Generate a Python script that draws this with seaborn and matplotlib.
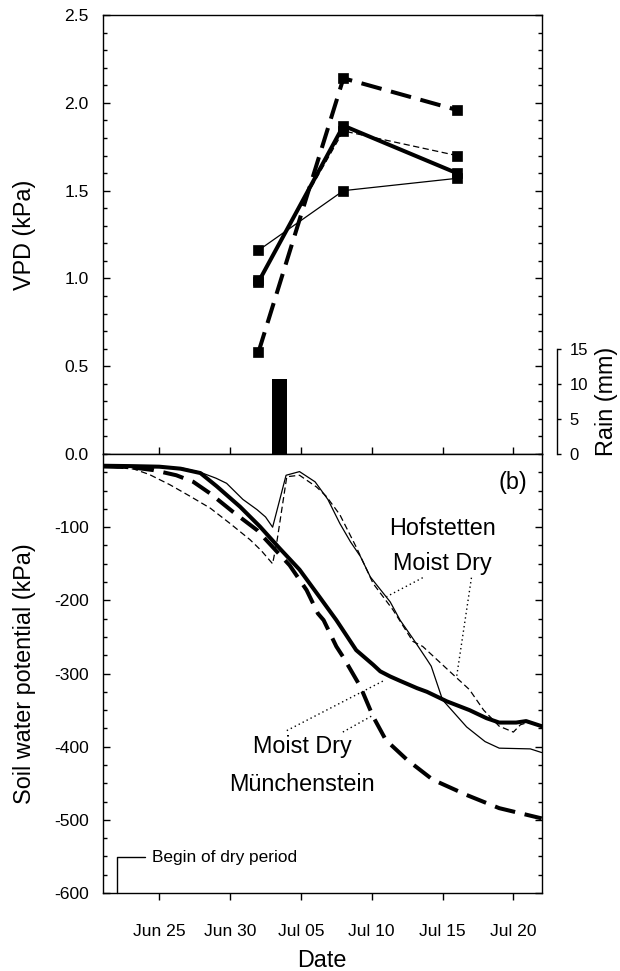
import numpy as np
import pandas as pd
import matplotlib

matplotlib.use("Agg")
import matplotlib.pyplot as plt
import matplotlib.dates as mdates
from matplotlib.ticker import MultipleLocator, FixedLocator
import seaborn as sns

# ==============================================================================
# DATA
# ==============================================================================
START = pd.Timestamp("2003-06-21")

# (a) VPD on the three sampling days
vpd_dates = ["2003-07-02", "2003-07-08", "2003-07-16"]
vpd_hof_moist = [1.16, 1.50, 1.57]
vpd_hof_dry = [0.99, 1.84, 1.70]
vpd_mun_moist = [0.98, 1.87, 1.60]
vpd_mun_dry = [0.58, 2.14, 1.96]

# rain event (mm)
rain_date = "2003-07-03 12:00"
rain_mm = 10.7

# (b) soil water potential (kPa), x = days after Jun 21
hof_moist_day = [0, 2, 4, 5.7, 6.9, 8.0, 8.75, 9.9, 10.9, 11.5, 12.0, 12.95,
                 13.9, 15.0, 15.9, 16.75, 17.5, 18.2, 18.9, 20.3, 21.0, 21.9,
                 22.9, 23.2, 24.0, 25.7, 27.0, 28.0, 30.2, 31.0]
hof_moist_swp = [-16, -17, -17.5, -19.5, -25, -33, -40, -62, -76, -86, -100, -29,
                 -24, -38, -62, -95, -120, -140, -168, -202, -227, -252,
                 -281, -290, -336, -373, -393, -402, -403, -408]

hof_dry_day = [0, 2.2, 3.3, 4.75, 6.2, 7.6, 9.0, 10.4, 11.2, 12.0, 12.3, 13.0,
               13.9, 15.1, 15.8, 16.75, 17.9, 19.1, 20.5, 21.9, 22.6, 25.0,
               25.9, 26.9, 28.0, 29.0, 29.5, 30.0, 31.0]
hof_dry_swp = [-17, -20.5, -28, -42, -58, -74, -95, -117, -132, -150, -120, -31,
               -29, -45, -58, -83, -127, -177, -213, -256, -263, -306,
               -322, -350, -372, -380, -370, -367, -372]

mun_moist_day = [0, 2, 4.0, 5.5, 6.9, 8.05, 9.7, 11.1, 12.5, 13.9, 15.3, 16.5,
                 17.9, 19.1, 19.6, 20.3, 21.0, 22.2, 22.9, 24.3, 25.9, 27.1,
                 28.0, 29.2, 29.9, 31.0]
mun_moist_swp = [-16, -16.5, -17.3, -20, -26, -44, -72, -99, -129, -158, -195, -227,
                 -268, -288, -297, -304, -310, -320, -325, -338, -350, -361,
                 -367, -367, -365, -372]

mun_dry_day = [0, 2, 3.6, 5.2, 6.4, 7.6, 9.2, 10.9, 12.0, 13.2, 14.4, 15.2,
               15.6, 16.5, 17.0, 18.2, 19.1, 20.0, 21.5, 23.3, 25.7, 28.0, 31.0]
mun_dry_swp = [-17, -18, -22, -29, -38, -54, -79, -104, -127, -152, -186, -218,
               -227, -263, -278, -318, -359, -391, -418, -445, -466, -484, -498]

# line style per series: (linewidth, linestyle)
STYLES = {
    "hof_moist": (0.9, "-"),
    "hof_dry": (0.9, (0, (4.5, 2.5))),
    "mun_moist": (2.9, "-"),
    "mun_dry": (2.9, (0, (15, 7))),
}


def to_dates(days):
    return START + pd.to_timedelta(np.asarray(days, dtype=float), unit="D")


def day_num(day):
    """Matplotlib date number for an offset in days after START."""
    return mdates.date2num(START.to_pydatetime()) + day


def main():
    sns.set_theme(style="ticks")
    plt.rcParams.update(
        {
            "font.family": ["Liberation Sans", "DejaVu Sans"],
            "axes.edgecolor": "black",
            "axes.labelcolor": "black",
            "text.color": "black",
            "xtick.color": "black",
            "ytick.color": "black",
            "axes.linewidth": 1.0,
            "axes.unicode_minus": False,
            "lines.scale_dashes": False,
            "lines.dash_capstyle": "butt",
        }
    )

    fig = plt.figure(figsize=(6.2, 9.71), dpi=100)
    ax_top = fig.add_axes([0.1656, 0.5324, 0.7081, 0.4521])
    ax_bot = fig.add_axes([0.1656, 0.0803, 0.7081, 0.4521], sharex=ax_top)

    # --- top panel: VPD ---
    vpd_x = pd.to_datetime(vpd_dates)
    vpd_series = {
        "hof_moist": vpd_hof_moist,
        "hof_dry": vpd_hof_dry,
        "mun_moist": vpd_mun_moist,
        "mun_dry": vpd_mun_dry,
    }
    for key, vals in vpd_series.items():
        lw, ls = STYLES[key]
        sns.lineplot(
            x=vpd_x, y=vals, ax=ax_top, color="black", lw=lw, linestyle=ls,
            marker="s", markersize=7.5, markeredgecolor="black",
            markeredgewidth=0.5, zorder=3,
        )

    ax_rain = ax_top.twinx()
    ax_rain.bar(pd.Timestamp(rain_date), rain_mm, width=1.1, color="black",
                edgecolor="black", linewidth=0)
    ax_rain.set_ylim(0, 62.6)
    ax_rain.yaxis.set_major_locator(FixedLocator([0, 5, 10, 15]))
    ax_rain.spines["right"].set_position(("outward", 10.8))
    ax_rain.spines["right"].set_bounds(0, 15)
    for side in ["left", "top", "bottom"]:
        ax_rain.spines[side].set_visible(False)
    ax_rain.tick_params(axis="y", direction="out", length=3.1, width=1.0,
                        labelsize=12, pad=6)
    ax_rain.set_ylabel("Rain (mm)", fontsize=16.8)
    ax_rain.yaxis.set_label_coords(1.121, 0.12)

    ax_top.set_ylim(0, 2.5)
    ax_top.yaxis.set_major_locator(MultipleLocator(0.5))
    ax_top.yaxis.set_minor_locator(MultipleLocator(0.1))
    ax_top.yaxis.set_major_formatter(plt.FormatStrFormatter("%.1f"))
    ax_top.tick_params(axis="y", which="both", direction="in", left=True,
                       right=True, labelsize=12.6, pad=10, width=1.0)
    ax_top.tick_params(axis="y", which="major", length=5.3)
    ax_top.tick_params(axis="y", which="minor", length=2.9)
    ax_top.tick_params(axis="x", which="major", direction="in", bottom=True,
                       top=False, labelbottom=False, length=5.3, width=1.0)
    ax_top.set_ylabel("VPD (kPa)", fontsize=16.8)
    ax_top.yaxis.set_label_coords(-0.152, 0.5)
    ax_top.set_xlabel("")

    # --- bottom panel: soil water potential ---
    swp_series = {
        "hof_moist": (hof_moist_day, hof_moist_swp),
        "hof_dry": (hof_dry_day, hof_dry_swp),
        "mun_moist": (mun_moist_day, mun_moist_swp),
        "mun_dry": (mun_dry_day, mun_dry_swp),
    }
    for key, (days, vals) in swp_series.items():
        lw, ls = STYLES[key]
        sns.lineplot(x=to_dates(days), y=vals, ax=ax_bot, color="black",
                     lw=lw, linestyle=ls)

    ax_bot.set_ylim(-600, 0)
    ax_bot.yaxis.set_major_locator(FixedLocator([-600, -500, -400, -300, -200, -100]))
    ax_bot.yaxis.set_minor_locator(MultipleLocator(25))
    ax_bot.tick_params(axis="y", which="both", direction="in", left=True,
                       right=True, labelsize=12.6, pad=10, width=1.0)
    ax_bot.tick_params(axis="y", which="major", length=5.3)
    ax_bot.tick_params(axis="y", which="minor", length=2.9)
    ax_bot.tick_params(axis="x", which="major", direction="out", bottom=True,
                       top=False, length=5.3, width=1.0, labelsize=12.6, pad=17)
    ax_bot.set_ylabel("Soil water potential (kPa)", fontsize=16.8)
    ax_bot.yaxis.set_label_coords(-0.152, 0.5)
    ax_bot.set_xlabel("Date", fontsize=16.8, labelpad=7)

    ax_bot.set_xlim(day_num(0), day_num(31))
    ax_bot.xaxis.set_major_locator(mdates.DayLocator(bymonthday=[5, 10, 15, 20, 25, 30]))
    ax_bot.xaxis.set_major_formatter(mdates.DateFormatter("%b %d"))

    # annotations
    txt = dict(fontsize=16.8, ha="center", va="center")
    ax_bot.text(0.935, 0.936, "(b)", transform=ax_bot.transAxes, **txt)
    ax_bot.text(day_num(24.0), -102, "Hofstetten", **txt)
    ax_bot.text(day_num(24.0), -149, "Moist Dry", **txt)
    ax_bot.text(day_num(14.07), -400, "Moist Dry", **txt)
    ax_bot.text(day_num(14.07), -452, "Münchenstein", **txt)

    leaders = [
        ((22.6, -169), (20.04, -195)),
        ((26.04, -169), (24.98, -306)),
        ((13.0, -378), (19.92, -309)),
        ((16.96, -380), (19.0, -358)),
    ]
    for (d0, v0), (d1, v1) in leaders:
        ax_bot.plot([day_num(d0), day_num(d1)], [v0, v1], color="black",
                    lw=1.0, linestyle=(0, (1, 2.2)))

    # begin of dry period marker
    ax_bot.plot([day_num(1.0), day_num(1.0), day_num(3.0)], [-600, -551, -551],
                color="black", lw=1.0, clip_on=False)
    ax_bot.text(day_num(3.5), -551, "Begin of dry period", fontsize=12.4,
                ha="left", va="center")

    fig.savefig("out.png", dpi=100)
    plt.close(fig)


if __name__ == "__main__":
    main()
